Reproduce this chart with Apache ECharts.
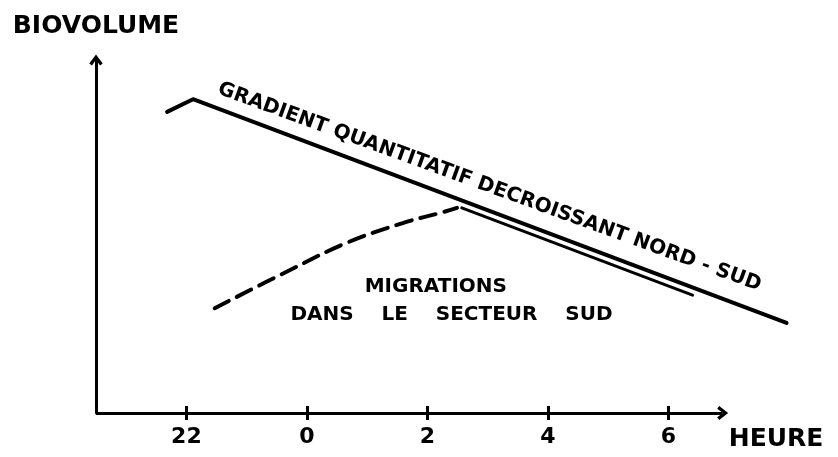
<!DOCTYPE html>
<html>
<head>
<meta charset="utf-8">
<script src="https://cdn.jsdelivr.net/npm/echarts@6/dist/echarts.min.js"></script>
<style>
  html, body { margin: 0; padding: 0; background: #fff; }
  #chart { width: 838px; height: 457px; }
</style>
</head>
<body>
<div id="chart"></div>
<script>
// heures : 22h = -2, minuit = 0
const tickValues = [-2, 0, 2, 4, 6];
const tickLabels = ['22', '0', '2', '4', '6'];
// étendue de l'axe des heures (la flèche s'arrête avant la fin du gradient)
const hourAxisExtent = [-3.5, 6.9];

// gradient quantitatif nord-sud
const gradientLine = [[-2.32, 8.53], [-1.89, 8.89], [7.96, 2.55]];
// trait double sous le gradient
const doubleLine = [[2.57, 5.81], [6.40, 3.34]];
// migrations dans le secteur sud (tirets)
const migrationLine = [[-1.53, 2.97], [-0.28, 4.05], [0.66, 4.82], [1.59, 5.38], [2.26, 5.69], [2.49, 5.81]];

const FONT = 'DejaVu Sans';
const chevron = 'path://M0,8 L6,0 L12,8 L9.6,9.8 L6,4.6 L2.4,9.8 Z';

const chart = echarts.init(document.getElementById('chart'));

const labelOf = (v) => tickLabels[tickValues.indexOf(v)] ?? '';

chart.setOption({
  animation: false,
  backgroundColor: '#fff',
  grid: { left: 96, right: 43, top: 60, bottom: 44 },
  xAxis: [
    {
      type: 'value',
      min: -3.5,
      max: 8.1,
      axisLine: { show: false, onZero: false },
      axisTick: { show: true, customValues: tickValues, length: 7, lineStyle: { color: '#000', width: 3 } },
      axisLabel: {
        customValues: tickValues,
        formatter: labelOf,
        margin: 13,
        fontFamily: FONT, fontWeight: 'bold', fontSize: 22, color: '#000'
      },
      splitLine: { show: false }
    },
    {
      type: 'value',
      min: -3.5,
      max: 8.1,
      position: 'bottom',
      axisLine: { show: false, onZero: false },
      axisTick: { show: true, inside: true, customValues: tickValues, length: 7, lineStyle: { color: '#000', width: 3 } },
      axisLabel: { show: false },
      splitLine: { show: false }
    }
  ],
  yAxis: {
    type: 'value',
    min: 0,
    max: 10,
    name: 'BIOVOLUME',
    nameLocation: 'end',
    nameGap: 21,
    nameTextStyle: { fontFamily: FONT, fontWeight: 'bold', fontSize: 25, color: '#000' },
    axisLine: {
      show: true,
      onZero: false,
      symbol: ['none', chevron],
      symbolSize: [14, 11],
      lineStyle: { color: '#000', width: 3 }
    },
    axisTick: { show: false },
    axisLabel: { show: false },
    splitLine: { show: false }
  },
  series: [
    {
      name: 'gradient',
      type: 'line',
      data: gradientLine,
      showSymbol: false,
      lineStyle: { color: '#000', width: 4, cap: 'round', join: 'round' },
      markLine: {
        silent: true,
        symbol: ['none', chevron],
        symbolSize: [14, 11],
        label: { show: false },
        emphasis: { disabled: true },
        lineStyle: { color: '#000', width: 3, type: 'solid' },
        data: [[{ coord: [hourAxisExtent[0], 0] }, { coord: [hourAxisExtent[1], 0] }]]
      }
    },
    {
      name: 'double',
      type: 'line',
      data: doubleLine,
      showSymbol: false,
      lineStyle: { color: '#000', width: 3, cap: 'round' }
    },
    {
      name: 'migrations',
      type: 'line',
      data: migrationLine,
      smooth: 0.4,
      showSymbol: false,
      lineStyle: { color: '#000', width: 4, type: [16, 9], cap: 'round' }
    }
  ]
});

// textes placés en coordonnées de données
const p1 = chart.convertToPixel({ gridIndex: 0 }, [3.03, 6.40]);
const p2 = chart.convertToPixel({ gridIndex: 0 }, [2.14, 3.57]);
const p3 = chart.convertToPixel({ gridIndex: 0 }, [2.40, 2.78]);
const p4 = chart.convertToPixel({ gridIndex: 0 }, [7.0, -0.75]);
const txt = { fontFamily: FONT, fontWeight: 'bold', fill: '#000', align: 'center', verticalAlign: 'middle' };

chart.setOption({
  graphic: [
    {
      type: 'text', x: p1[0], y: p1[1], rotation: -20 * Math.PI / 180,
      style: Object.assign({}, txt, { text: 'GRADIENT QUANTITATIF DECROISSANT NORD - SUD', fontSize: 20 })
    },
    { type: 'text', x: p2[0], y: p2[1], style: Object.assign({}, txt, { text: 'MIGRATIONS', fontSize: 20 }) },
    { type: 'text', x: p3[0], y: p3[1], style: Object.assign({}, txt, { text: 'DANS    LE    SECTEUR    SUD', fontSize: 20 }) },
    { type: 'text', x: p4[0], y: p4[1], style: Object.assign({}, txt, { text: 'HEURE', fontSize: 25, align: 'left' }) }
  ]
});
</script>
</body>
</html>
